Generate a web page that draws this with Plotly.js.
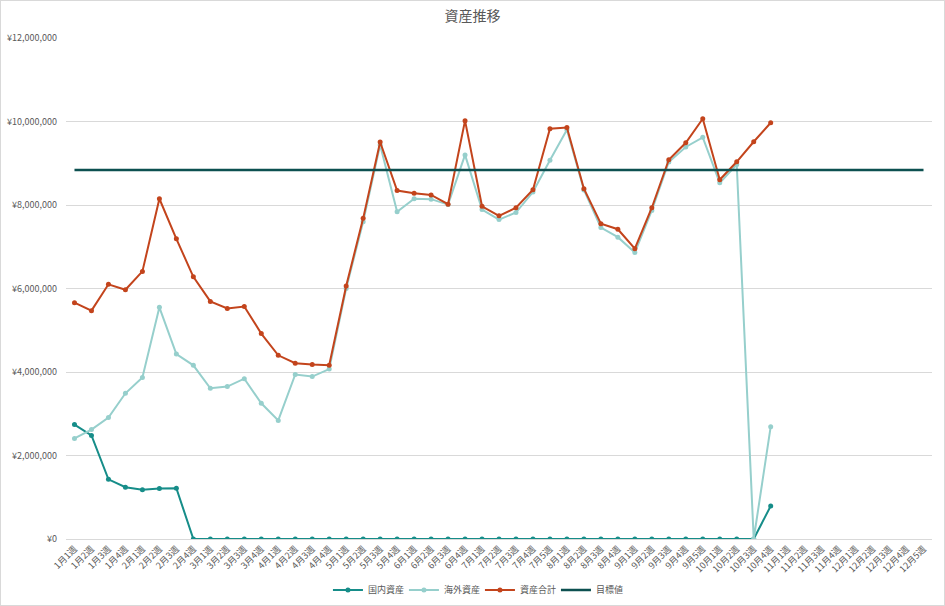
<!DOCTYPE html>
<html>
<head>
<meta charset="utf-8">
<script src="https://cdn.plot.ly/plotly-3.0.1.min.js"></script>
<style>
  html, body { margin: 0; padding: 0; background: #ffffff; }
  #chart { width: 943px; height: 604px; border: 1px solid #d9d9d9; }
</style>
</head>
<body>
<div id="chart"></div>
<script>
const categories = [
  "1月1週","1月2週","1月3週","1月4週",
  "2月1週","2月2週","2月3週","2月4週",
  "3月1週","3月2週","3月3週","3月4週",
  "4月1週","4月2週","4月3週","4月4週",
  "5月1週","5月2週","5月3週","5月4週",
  "6月1週","6月2週","6月3週","6月4週",
  "7月1週","7月2週","7月3週","7月4週","7月5週",
  "8月1週","8月2週","8月3週","8月4週",
  "9月1週","9月2週","9月3週","9月4週","9月5週",
  "10月1週","10月2週","10月3週","10月4週",
  "11月1週","11月2週","11月3週","11月4週",
  "12月1週","12月2週","12月3週","12月4週","12月5週"
];

const domestic = [
  2740000, 2480000, 1430000, 1240000, 1180000, 1210000, 1215000, 0,
  0, 0, 0, 0, 0, 0, 0, 0,
  0, 0, 0, 0, 0, 0, 0, 0,
  0, 0, 0, 0, 0, 0, 0, 0,
  0, 0, 0, 0, 0, 0, 0, 0,
  0, 790000
];

const overseas = [
  2410000, 2620000, 2910000, 3490000, 3870000, 5550000, 4430000, 4160000,
  3610000, 3650000, 3840000, 3250000, 2840000, 3940000, 3890000, 4070000,
  6000000, 7600000, 9440000, 7840000, 8150000, 8140000, 8010000, 9200000,
  7890000, 7650000, 7820000, 8310000, 9070000, 9800000, 8360000, 7460000,
  7230000, 6860000, 7870000, 9030000, 9390000, 9620000, 8530000, 8970000,
  0, 2690000
];

const total = [
  5660000, 5470000, 6100000, 5970000, 6410000, 8150000, 7190000, 6280000,
  5690000, 5520000, 5570000, 4920000, 4400000, 4210000, 4180000, 4160000,
  6060000, 7680000, 9510000, 8345000, 8280000, 8240000, 8020000, 10020000,
  7970000, 7740000, 7935000, 8365000, 9825000, 9855000, 8390000, 7550000,
  7420000, 6955000, 7935000, 9085000, 9490000, 10065000, 8605000, 9035000,
  9515000, 9970000
];

const target = [
  8840000, 8840000, 8840000, 8840000, 8840000, 8840000, 8840000, 8840000,
  8840000, 8840000, 8840000, 8840000, 8840000, 8840000, 8840000, 8840000,
  8840000, 8840000, 8840000, 8840000, 8840000, 8840000, 8840000, 8840000,
  8840000, 8840000, 8840000, 8840000, 8840000, 8840000, 8840000, 8840000,
  8840000, 8840000, 8840000, 8840000, 8840000, 8840000, 8840000, 8840000,
  8840000, 8840000, 8840000, 8840000, 8840000, 8840000, 8840000, 8840000,
  8840000, 8840000, 8840000
];

const seriesNames = ["国内資産", "海外資産", "資産合計", "目標値"];
const yTickVals = [0, 2000000, 4000000, 6000000, 8000000, 10000000, 12000000];
const yTickText = ["¥0", "¥2,000,000", "¥4,000,000", "¥6,000,000", "¥8,000,000", "¥10,000,000", "¥12,000,000"];

const FONT = '"Noto Sans CJK JP", "Noto Sans", sans-serif';
const GRAY = '#595959';

function lineTrace(name, y, color) {
  return {
    type: 'scatter', mode: 'lines+markers', name: name,
    x: categories.slice(0, y.length), y: y,
    line: { color: color, width: 2 },
    marker: { color: color, size: 5, symbol: 'circle' },
    hoverinfo: 'x+y+name'
  };
}

const traces = [
  lineTrace(seriesNames[0], domestic, '#168D89'),
  lineTrace(seriesNames[1], overseas, '#96CFCC'),
  lineTrace(seriesNames[2], total, '#C3441C'),
  {
    type: 'scatter', mode: 'lines', name: seriesNames[3],
    x: categories, y: target,
    line: { color: '#0D5050', width: 2.5 }
  }
];

const layout = {
  width: 943, height: 604,
  margin: { l: 65, r: 12, t: 37, b: 66, autoexpand: false },
  paper_bgcolor: '#ffffff', plot_bgcolor: '#ffffff',
  font: { family: FONT, color: GRAY, size: 9 },
  title: {
    text: '資産推移',
    font: { family: FONT, size: 14, color: GRAY },
    x: 0.5, xanchor: 'center', y: 0.975, yanchor: 'middle'
  },
  showlegend: true,
  legend: {
    orientation: 'h', x: 0.478, xanchor: 'center',
    yref: 'container', y: 0.025, yanchor: 'middle',
    font: { family: FONT, size: 9, color: GRAY },
    itemwidth: 30, entrywidth: 31, traceorder: 'normal'
  },
  xaxis: {
    type: 'category',
    categoryorder: 'array', categoryarray: categories,
    tickvals: categories, ticktext: categories,
    range: [-0.5, categories.length - 0.5],
    tickangle: -45,
    tickfont: { family: FONT, size: 9, color: GRAY },
    showgrid: false, showline: false, zeroline: false,
    ticks: '', ticklabelstandoff: 2,
    automargin: false,
    fixedrange: true
  },
  yaxis: {
    range: [0, 12000000],
    tickvals: yTickVals, ticktext: yTickText,
    tickfont: { family: FONT, size: 9, color: GRAY },
    showgrid: true, gridcolor: '#d9d9d9', gridwidth: 1,
    zeroline: true, zerolinecolor: '#d9d9d9', zerolinewidth: 1,
    showline: false, ticks: '', ticklabelstandoff: 8,
    automargin: false,
    fixedrange: true
  },
  hovermode: 'closest'
};

Plotly.newPlot('chart', traces, layout, { displayModeBar: false, responsive: false });
</script>
</body>
</html>
